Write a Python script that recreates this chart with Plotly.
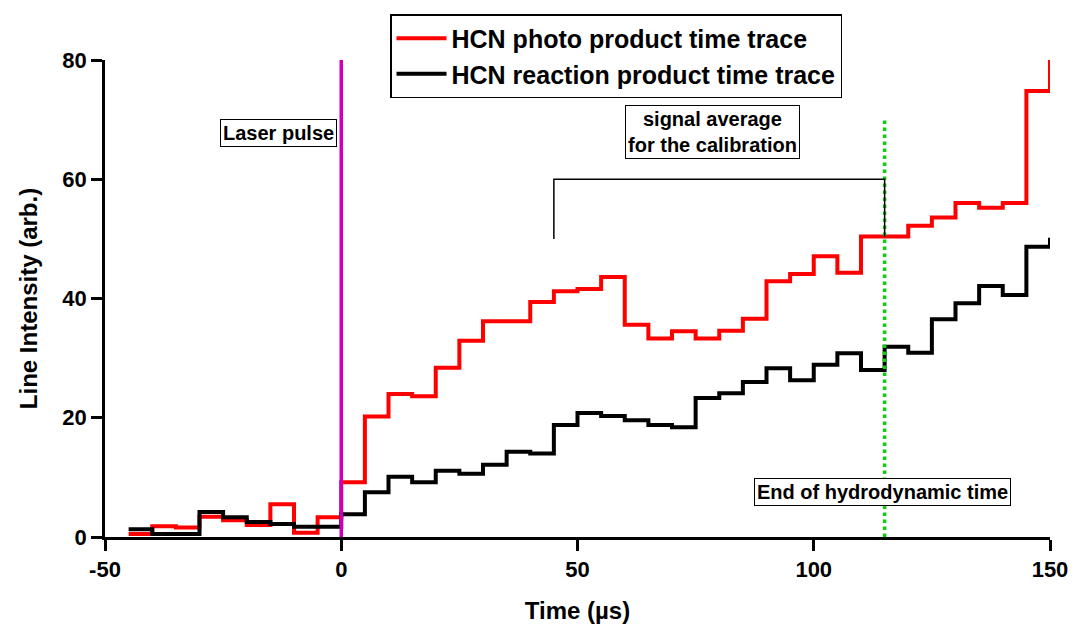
import plotly.graph_objects as go

# ---- data ----
bin_edges = [-45, -40, -35, -30, -25, -20, -15, -10, -5, 0, 5, 10, 15, 20, 25, 30, 35, 40,
             45, 50, 55, 60, 65, 70, 75, 80, 85, 90, 95, 100, 105, 110, 115, 120, 125, 130,
             135, 140, 145, 150]
photo_values = [0.5, 1.8, 1.6, 3.4, 2.8, 2.0, 5.5, 0.7, 3.3, 9.2, 20.2, 24.0, 23.6, 28.4,
                32.9, 36.2, 36.2, 39.4, 41.2, 41.6, 43.6, 35.6, 33.3, 34.5, 33.3, 34.6, 36.6,
                42.9, 44.1, 47.1, 44.3, 50.4, 50.4, 52.2, 53.6, 56.0, 55.2, 56.0, 74.8, 80.0]
reaction_values = [1.3, 0.5, 0.5, 4.2, 3.3, 2.5, 2.2, 1.7, 1.7, 3.8, 7.5, 10.1, 9.2, 11.1,
                   10.6, 12.1, 14.3, 14.0, 18.8, 20.8, 20.3, 19.6, 18.8, 18.4, 23.3, 24.1, 26.0,
                   28.3, 26.3, 28.9, 30.8, 28.0, 31.9, 30.9, 36.5, 39.2, 42.1, 40.6, 48.7, 50.2]

laser_time = 0
laser_range = [0, 80]
hydro_end_time = 115
hydro_range = [0, 70]
bracket_x = [45, 45, 115, 115]
bracket_y = [50, 60, 60, 50.4]

x_ticks = [-50, 0, 50, 100, 150]
y_ticks = [0, 20, 40, 60, 80]

FONT = "Arial, 'Liberation Sans', sans-serif"

fig = go.Figure()
fig.add_trace(go.Scatter(x=bin_edges, y=photo_values, mode="lines", line_shape="hv",
                         line=dict(color="#ff0000", width=4),
                         name="HCN photo product time trace"))
fig.add_trace(go.Scatter(x=bin_edges, y=reaction_values, mode="lines", line_shape="hv",
                         line=dict(color="#000000", width=4),
                         name="HCN reaction product time trace"))
fig.add_trace(go.Scatter(x=[laser_time, laser_time], y=laser_range, mode="lines",
                         line=dict(color="#cc00bb", width=3.5), showlegend=False,
                         hoverinfo="skip"))
fig.add_trace(go.Scatter(x=[hydro_end_time, hydro_end_time], y=hydro_range, mode="lines",
                         line=dict(color="#11cc11", width=3.5, dash="dot"), showlegend=False,
                         hoverinfo="skip"))
fig.add_trace(go.Scatter(x=bracket_x, y=bracket_y, mode="lines",
                         line=dict(color="#000000", width=1.5), showlegend=False,
                         hoverinfo="skip"))

ann_font = dict(family=FONT, size=20, color="black", weight="bold")
fig.add_annotation(x=-13.3, y=67.8, xref="x", yref="y", text="Laser pulse", showarrow=False,
                   font=ann_font, bgcolor="white", bordercolor="black", borderwidth=1,
                   borderpad=2)
fig.add_annotation(x=78.5, y=68.0, xref="x", yref="y",
                   text="signal average<br>for the calibration", showarrow=False,
                   font=ann_font, bgcolor="white", bordercolor="black", borderwidth=1,
                   borderpad=2)
fig.add_annotation(x=114.5, y=7.5, xref="x", yref="y", text="End of hydrodynamic time",
                   showarrow=False, font=ann_font, bgcolor="white", bordercolor="black",
                   borderwidth=1, borderpad=2)

axis_common = dict(showline=True, linecolor="black", linewidth=2.5, ticks="outside",
                   ticklen=11, tickwidth=2.5, tickcolor="black", showgrid=False,
                   zeroline=False, mirror=False, automargin=False,
                   tickfont=dict(family=FONT, size=22, color="black", weight="bold"))

fig.update_xaxes(range=[-50, 150], tickvals=x_ticks, ticktext=[str(v) for v in x_ticks],
                 title=dict(text="Time (µs)", standoff=24,
                            font=dict(family=FONT, size=24, color="black", weight="bold")),
                 **axis_common)
fig.update_yaxes(range=[0, 80], tickvals=y_ticks,
                 title=dict(text="Line Intensity (arb.)", standoff=18,
                            font=dict(family=FONT, size=24, color="black", weight="bold")),
                 **axis_common)

fig.update_layout(
    width=1073, height=624,
    margin=dict(l=105, r=23, t=60, b=87),
    plot_bgcolor="white", paper_bgcolor="white",
    font=dict(family=FONT, color="black"),
    legend=dict(x=0.3016, y=1.0964, xanchor="left", yanchor="top",
                bordercolor="black", borderwidth=1.5, bgcolor="white",
                font=dict(family=FONT, size=25, color="black", weight="bold"),
                tracegroupgap=0, itemwidth=50),
    showlegend=True,
)

fig.write_html("out.html", config={"displayModeBar": False},
               post_script="document.body.style.margin='0';document.body.style.overflow='hidden';")
